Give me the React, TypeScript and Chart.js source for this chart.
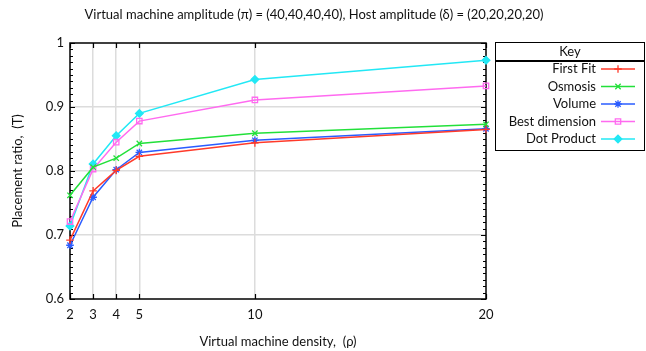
import React, { useEffect, useRef } from "react";
import { Chart, registerables } from "chart.js";
import { drawPoint } from "chart.js/helpers";
Chart.register(...registerables);

const densities = [2, 3, 4, 5, 10, 20];
const yTicks = [0.6, 0.7, 0.8, 0.9, 1];
const firstFit = [0.692, 0.769, 0.801, 0.823, 0.844, 0.865];
const osmosis = [0.762, 0.806, 0.82, 0.843, 0.859, 0.873];
const volume = [0.684, 0.759, 0.802, 0.829, 0.848, 0.866];
const bestDimension = [0.721, 0.803, 0.845, 0.878, 0.911, 0.933];
const dotProduct = [0.714, 0.811, 0.855, 0.89, 0.943, 0.973];

const titleText = "Virtual machine amplitude (\u03c0) = (40,40,40,40), Host amplitude (\u03b4) = (20,20,20,20)";
const xTitle = "Virtual machine density,  (\u03c1)";
const yTitle = "Placement ratio,  (T)";
const FONT = "Lato, 'DejaVu Sans', sans-serif";

const series = [
  { label: "First Fit", data: firstFit, color: "#ff3a2a", style: "cross", fill: false },
  { label: "Osmosis", data: osmosis, color: "#22e03a", style: "crossRot", fill: false },
  { label: "Volume", data: volume, color: "#2a5cff", style: "star", fill: false },
  { label: "Best dimension", data: bestDimension, color: "#ff6af0", style: "rect", fill: false },
  { label: "Dot Product", data: dotProduct, color: "#22e8f5", style: "rectRot", fill: true },
];

const decor = {
  id: "decor",
  beforeDatasetsDraw(chart: any) {
    const { ctx, chartArea: a, scales } = chart;
    const x = scales.x, y = scales.y;
    ctx.save();
    ctx.strokeStyle = "#000";
    ctx.lineWidth = 1.5;
    ctx.strokeRect(a.left, a.top, a.right - a.left, a.bottom - a.top);
    ctx.lineWidth = 1.2;
    for (let i = 0; i <= 40; i++) {
      const v = 0.6 + i * 0.01;
      const py = Math.round(y.getPixelForValue(v)) + 0.5;
      const major = i % 10 === 0;
      const len = major ? 5 : 3;
      ctx.beginPath();
      ctx.moveTo(a.left, py); ctx.lineTo(a.left + len, py);
      ctx.moveTo(a.right, py); ctx.lineTo(a.right - len, py);
      ctx.stroke();
    }
    for (const d of densities) {
      const px = Math.round(x.getPixelForValue(d)) + 0.5;
      ctx.beginPath();
      ctx.moveTo(px, a.bottom); ctx.lineTo(px, a.bottom - 5);
      ctx.moveTo(px, a.top); ctx.lineTo(px, a.top + 5);
      ctx.stroke();
    }
    ctx.restore();
  },
  afterDatasetsDraw(chart: any) {
    const { ctx, chartArea: a } = chart;
    ctx.save();
    ctx.fillStyle = "#111";
    ctx.font = "13px " + FONT;
    ctx.textAlign = "center";
    ctx.textBaseline = "middle";
    ctx.fillText(titleText, 314, 15);
    ctx.fillText(xTitle, 278, 342);
    ctx.save();
    ctx.translate(18, (a.top + a.bottom) / 2);
    ctx.rotate(-Math.PI / 2);
    ctx.fillText(yTitle, 0, 0);
    ctx.restore();
    const lx = 495.5, ly = 42.5, lw = 149, lh = 108;
    ctx.lineWidth = 1;
    ctx.strokeStyle = "#000";
    ctx.strokeRect(lx, ly, lw, lh);
    ctx.lineWidth = 2;
    ctx.beginPath(); ctx.moveTo(lx, 61); ctx.lineTo(lx + lw, 61); ctx.stroke();
    ctx.fillText("Key", lx + lw / 2, 51.5);
    chart.data.datasets.forEach((ds: any, i: number) => {
      const ey = 69 + i * 17.5;
      ctx.textAlign = "right";
      ctx.fillStyle = "#111";
      ctx.fillText(ds.label, 596, ey);
      ctx.strokeStyle = ds.borderColor;
      ctx.lineWidth = 1.5;
      ctx.beginPath(); ctx.moveTo(601, ey); ctx.lineTo(635, ey); ctx.stroke();
      ctx.fillStyle = ds.pointBackgroundColor;
      ctx.lineWidth = 1.3;
      drawPoint(ctx, { pointStyle: ds.pointStyle, radius: 3.8, rotation: 0, borderWidth: 1.3 } as any, 618, ey);
    });
    ctx.restore();
  },
};

export default function App() {
  const ref = useRef<HTMLCanvasElement>(null);
  useEffect(() => {
    document.body.style.margin = "0";
    const chart = new Chart(ref.current!, {
      type: "line",
      data: {
        datasets: series.map((s) => ({
          label: s.label,
          data: s.data.map((v, i) => ({ x: densities[i], y: v })),
          borderColor: s.color,
          backgroundColor: s.fill ? s.color : "rgba(0,0,0,0)",
          pointBorderColor: s.color,
          pointBackgroundColor: s.fill ? s.color : "rgba(0,0,0,0)",
          pointStyle: s.style as any,
          pointRadius: 3.8,
          pointBorderWidth: 1.3,
          borderWidth: 1.5,
          tension: 0,
          clip: false as any,
        })),
      },
      options: {
        animation: false,
        responsive: false,
        layout: { padding: { top: 43, right: 160, left: 0, bottom: 0 } },
        plugins: { legend: { display: false }, title: { display: false }, tooltip: { enabled: false } },
        scales: {
          x: {
            type: "linear",
            min: 2,
            max: 20,
            afterBuildTicks: (s: any) => { s.ticks = densities.map((v) => ({ value: v })); },
            afterFit: (s: any) => { s.height = 52; },
            border: { display: false },
            grid: {
              drawTicks: false,
              color: (c: any) => (c.tick && (c.tick.value === 2 || c.tick.value === 20) ? "rgba(0,0,0,0)" : "#dcdcdc"),
              lineWidth: 1.5,
            },
            ticks: { padding: 8, color: "#111", font: { size: 13, family: FONT }, maxRotation: 0, autoSkip: false },
          },
          y: {
            type: "linear",
            min: 0.6,
            max: 1,
            afterBuildTicks: (s: any) => { s.ticks = yTicks.map((v) => ({ value: v })); },
            afterFit: (s: any) => { s.width = 70; },
            border: { display: false },
            grid: {
              drawTicks: false,
              color: (c: any) => (c.tick && (c.tick.value === 0.6 || c.tick.value === 1) ? "rgba(0,0,0,0)" : "#dcdcdc"),
              lineWidth: 1.5,
            },
            ticks: {
              padding: 6, color: "#111", font: { size: 13, family: FONT },
              callback: (v: any) => String(Math.round(Number(v) * 10) / 10),
            },
          },
        },
      },
      plugins: [decor],
    });
    return () => chart.destroy();
  }, []);
  return (
    <div style={{ width: 646, height: 351 }}>
      <canvas ref={ref} width={646} height={351} style={{ display: "block" }} />
    </div>
  );
}
